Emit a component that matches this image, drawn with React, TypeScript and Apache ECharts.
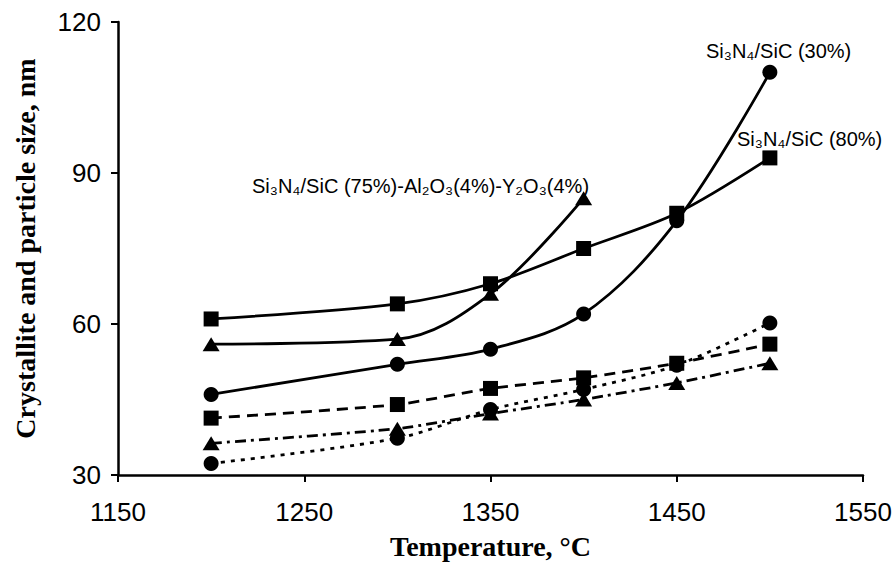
import React, { useEffect, useRef } from "react";
import * as echarts from "echarts";

const temperatures = [1200, 1300, 1350, 1400, 1450, 1500];
const triTemps = [1200, 1300, 1350, 1400];

const sq80Crystal = [61, 64, 68, 75, 82, 93];
const tri75Crystal = [56, 57, 66, 85];
const circ30Crystal = [46, 52, 55, 62, 80.5, 110];
const sq80Particle = [41.3, 44, 47.2, 49.3, 52.2, 56];
const tri75Particle = [36.3, 39.2, 42.2, 45, 48.3, 52.2];
const circ30Particle = [32.3, 37.3, 43, 47, 51.8, 60.2];

const xTicks = [1150, 1250, 1350, 1450, 1550];
const yTicks = [30, 60, 90, 120];

const pairs = (xs: number[], ys: number[]) => ys.map((y, i) => [xs[i], y]);

export default function App() {
  const ref = useRef<HTMLDivElement>(null);
  useEffect(() => {
    if (!ref.current) return;
    const chart = echarts.init(ref.current, null, { renderer: "svg" });
    const mk = (
      name: string,
      xs: number[],
      ys: number[],
      symbol: string,
      symbolSize: any,
      type: any,
      smooth: number
    ) => ({
      name,
      type: "line",
      data: pairs(xs, ys),
      symbol,
      symbolSize,
      smooth,
      itemStyle: { color: "#000" },
      lineStyle: { color: "#000", width: 2.8, type },
      z: 3,
    });
    const tickFont = { fontFamily: "Liberation Sans, Arial, sans-serif", fontSize: 26, color: "#000" };
    const titleFont = { fontFamily: "Liberation Serif, Times New Roman, serif", fontWeight: "bold", fontSize: 28, color: "#000" };
    const annFont = { fontFamily: "Liberation Sans, Arial, sans-serif", fontSize: 20, fill: "#000" };
    chart.setOption({
      animation: false,
      backgroundColor: "#fff",
      grid: { left: 118, right: 33, top: 22, bottom: 88, containLabel: false, outerBoundsMode: "none" },
      xAxis: {
        type: "value",
        min: xTicks[0],
        max: xTicks[xTicks.length - 1],
        interval: 100,
        name: "Temperature, °C",
        nameLocation: "middle",
        nameGap: 57,
        nameTextStyle: titleFont,
        axisLine: { lineStyle: { color: "#000", width: 2.5 } },
        axisTick: { show: true, length: 7, lineStyle: { color: "#000", width: 2 } },
        axisLabel: { ...tickFont, margin: 24, formatter: (v: number) => String(v) },
        splitLine: { show: false },
      },
      yAxis: {
        type: "value",
        min: yTicks[0],
        max: yTicks[yTicks.length - 1],
        interval: 30,
        name: "Crystallite and particle size, nm",
        nameLocation: "middle",
        nameRotate: 90,
        nameGap: 79,
        nameTextStyle: titleFont,
        axisLine: { show: true, lineStyle: { color: "#000", width: 2.5 } },
        axisTick: { show: true, length: 7, lineStyle: { color: "#000", width: 2 } },
        axisLabel: { ...tickFont, margin: 17, formatter: (v: number) => String(v) },
        splitLine: { show: false },
      },
      series: [
        mk("Si3N4/SiC (80%) crystallite", temperatures, sq80Crystal, "rect", 15, "solid", 0.3),
        mk("Si3N4/SiC (75%)-Al2O3(4%)-Y2O3(4%) crystallite", triTemps, tri75Crystal, "triangle", [17, 14], "solid", 0.35),
        mk("Si3N4/SiC (30%) crystallite", temperatures, circ30Crystal, "circle", 15, "solid", 0.35),
        mk("Si3N4/SiC (80%) particle", temperatures, sq80Particle, "rect", 15, [11, 7], 0.2),
        mk("Si3N4/SiC (75%) particle", temperatures, tri75Particle, "triangle", [17, 14], [11, 5, 3, 5], 0.2),
        mk("Si3N4/SiC (30%) particle", temperatures, circ30Particle, "circle", 15, [4, 6], 0.3),
      ],
      graphic: [
        { type: "text", left: 706, top: 41, style: { text: "Si₃N₄/SiC (30%)", ...annFont } },
        { type: "text", left: 737, top: 129, style: { text: "Si₃N₄/SiC (80%)", ...annFont } },
        { type: "text", left: 252, top: 176, style: { text: "Si₃N₄/SiC (75%)-Al₂O₃(4%)-Y₂O₃(4%)", ...annFont } },
      ],
    });
    return () => chart.dispose();
  }, []);
  return (
    <div
      ref={ref}
      style={{ position: "absolute", left: 0, top: 0, width: 896, height: 563, background: "#fff" }}
    />
  );
}
